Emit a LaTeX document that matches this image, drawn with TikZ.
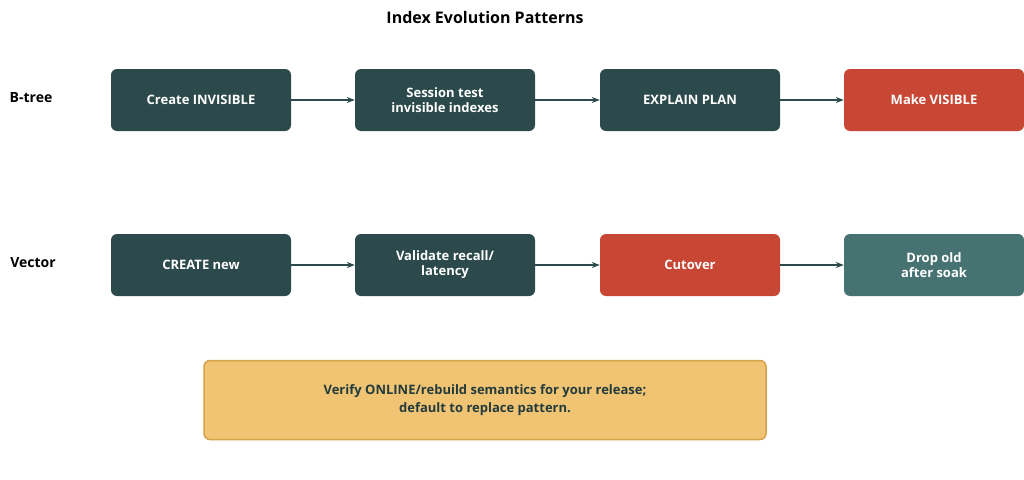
\documentclass[tikz,border=0pt]{standalone}
\usepackage{fontspec}
\setmainfont{Open Sans}
\usetikzlibrary{arrows.meta}
\definecolor{dk}{HTML}{2C4A4C}
\definecolor{rd}{HTML}{C74634}
\definecolor{tl}{HTML}{467271}
\definecolor{yl}{HTML}{F0C472}
\definecolor{yb}{HTML}{D6A24A}
\begin{document}
\begin{tikzpicture}[x=1pt,y=-1pt,
 box/.style={rounded corners=6pt,minimum width=180pt,minimum height=62pt,text=white,font=\bfseries\fontsize{13}{15}\selectfont,align=center,inner sep=2pt},
 arr/.style={-{Stealth[length=8pt,width=6pt]},draw=dk,line width=1.2pt},
 lab/.style={font=\bfseries\fontsize{14}{16}\selectfont}]
\useasboundingbox (0,0) rectangle (1024,479);
\node[lab,font=\bfseries\fontsize{16}{18}\selectfont] (t) at (485,17) {Index Evolution Patterns};
\node[lab] (l1) at (31,98) {B-tree};
\node[lab] (l2) at (33,263) {Vector};
\node[box,fill=dk] (a1) at (201,100) {Create INVISIBLE};
\node[box,fill=dk] (a2) at (445,100) {Session test\\invisible indexes};
\node[box,fill=dk] (a3) at (690,100) {EXPLAIN PLAN};
\node[box,fill=rd] (a4) at (934,100) {Make VISIBLE};
\node[box,fill=dk] (b1) at (201,265) {CREATE new};
\node[box,fill=dk] (b2) at (445,265) {Validate recall/\\latency};
\node[box,fill=rd] (b3) at (690,265) {Cutover};
\node[box,fill=tl] (b4) at (934,265) {Drop old\\after soak};
\draw[arr] (a1) -- (a2); \draw[arr] (a2) -- (a3); \draw[arr] (a3) -- (a4);
\draw[arr] (b1) -- (b2); \draw[arr] (b2) -- (b3); \draw[arr] (b3) -- (b4);
\node[rounded corners=6pt,fill=yl,draw=yb,line width=1.5pt,minimum width=562pt,minimum height=79pt,align=center,font=\bfseries\fontsize{13}{18}\selectfont,text=dk!80!black] (n) at (485,400) {Verify ONLINE/rebuild semantics for your release;\\default to replace pattern.};
\end{tikzpicture}
\end{document}
